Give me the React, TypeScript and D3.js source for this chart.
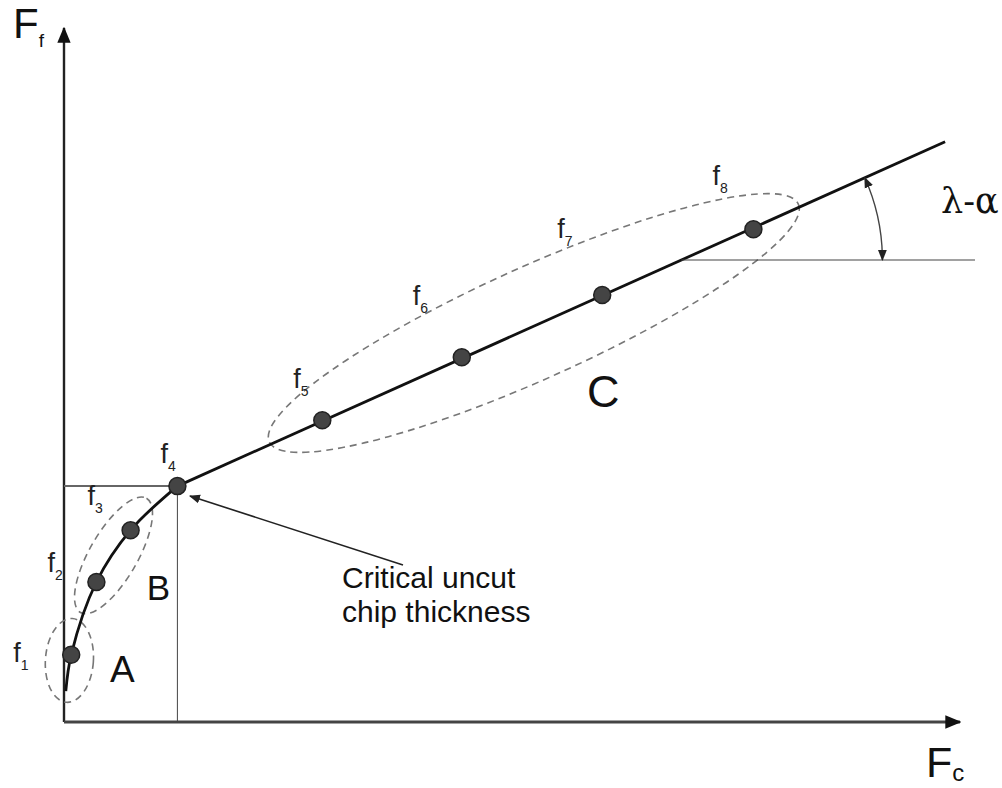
import React from "react";
import * as d3 from "d3";

// Force diagram: thrust force Ff against cutting force Fc
const pointLabels = ["1", "2", "3", "4", "5", "6", "7", "8"];
const fcValues = [0.8, 3.6, 7.4, 12.6, 28.7, 44.2, 59.8, 76.6];
const ffValues = [9.6, 20.0, 27.4, 33.7, 43.1, 52.1, 61.0, 70.4];

// curve origin and the far end of the linear (region C) trend
const curveStart = { fc: 0.2, ff: 4.4 };
const lineEnd = { fc: 97.9, ff: 82.9 };

// region labels
const regionNames = ["A", "B", "C"];
const regionFc = [5.1, 9.2, 58.1];
const regionFf = [5.7, 17.4, 45.0];
const regionSizes = [37, 35, 45];

const W = 1002;
const H = 788;

export default function App() {
  const x = d3.scaleLinear().domain([0, 100]).range([64, 964]);
  const y = d3.scaleLinear().domain([0, 100]).range([722, 22]);

  const curvePts: [number, number][] = [
    [x(curveStart.fc), y(curveStart.ff)],
    ...fcValues.slice(0, 4).map((v, i) => [x(v), y(ffValues[i])] as [number, number]),
  ];
  const curvePath = d3.line().curve(d3.curveCatmullRom.alpha(0.5))(curvePts) as string;
  const linePath = d3.line()([
    [x(fcValues[3]), y(ffValues[3])],
    [x(lineEnd.fc), y(lineEnd.ff)],
  ]) as string;

  const x0 = x(0);
  const y0 = y(0);
  const f4x = x(fcValues[3]);
  const f4y = y(ffValues[3]);

  // angle reference: horizontal through the point where the trend line meets it
  const slope = (lineEnd.ff - ffValues[3]) / (lineEnd.fc - fcValues[3]);
  const refFf = 66.0;
  const refFc = fcValues[3] + (refFf - ffValues[3]) / slope;
  const cx = x(refFc);
  const cy = y(refFf);
  const r = 201;
  const ang = Math.atan2(y(ffValues[3]) - y(lineEnd.ff), x(lineEnd.fc) - x(fcValues[3]));
  const a1x = cx + r * Math.cos(ang);
  const a1y = cy - r * Math.sin(ang);
  const a2x = cx + r;
  const a2y = cy;

  const labelOffsets: [number, number][] = [
    [-58, 7], [-49, -10], [-43, -25], [-17, -23], [-29, -32], [-49, -52], [-45, -57], [-41, -44],
  ];

  const dash = "7,5";
  const ellipseStyle = { fill: "none", stroke: "#777", strokeWidth: 1.6, strokeDasharray: dash };

  return (
    <svg width={W} height={H} style={{ display: "block", position: "absolute", left: 0, top: 0 }}
      fontFamily="'Liberation Sans', Arial, sans-serif">
      <defs>
        <marker id="axisTip" viewBox="0 0 12 12" refX="11" refY="6" markerWidth="16" markerHeight="16"
          orient="auto" markerUnits="userSpaceOnUse">
          <path d="M0,1 L12,6 L0,11 Z" fill="#111" />
        </marker>
        <marker id="smallHead" viewBox="0 0 10 10" refX="9" refY="5" markerWidth="11" markerHeight="11"
          orient="auto-start-reverse" markerUnits="userSpaceOnUse">
          <path d="M0,1 L10,5 L0,9 Z" fill="#222" />
        </marker>
      </defs>

      <rect width={W} height={H} fill="#fff" />

      {/* axes */}
      <line x1={x0} y1={y0} x2={x0} y2={28} stroke="#222" strokeWidth={2.4} markerEnd="url(#axisTip)" />
      <line x1={x0} y1={y0} x2={960} y2={y0} stroke="#444" strokeWidth={2.8} markerEnd="url(#axisTip)" />

      {/* critical point guide lines */}
      <line x1={x0} y1={f4y} x2={f4x} y2={f4y} stroke="#666" strokeWidth={2} />
      <line x1={f4x} y1={f4y} x2={f4x} y2={y0} stroke="#444" strokeWidth={1} />

      {/* region ellipses */}
      <ellipse cx={x(0.6)} cy={y(8.8)} rx={24} ry={42} transform={`rotate(4 ${x(0.6)} ${y(8.8)})`} style={ellipseStyle} />
      <ellipse cx={x(5.5)} cy={y(23.8)} rx={66} ry={24}
        transform={`rotate(-60 ${x(5.5)} ${y(23.8)})`} style={ellipseStyle} />
      <ellipse cx={x(52.2)} cy={y(57.0)} rx={290} ry={56}
        transform={`rotate(-24.2 ${x(52.2)} ${y(57.0)})`} style={ellipseStyle} />

      {/* force curve */}
      <path d={curvePath} fill="none" stroke="#111" strokeWidth={2.8} />
      <path d={linePath} fill="none" stroke="#111" strokeWidth={2.8} />

      {/* angle reference */}
      <line x1={cx} y1={cy} x2={975} y2={cy} stroke="#444" strokeWidth={1.2} />
      <path d={`M${a1x},${a1y} A${r},${r} 0 0 1 ${a2x},${a2y}`} fill="none" stroke="#444" strokeWidth={1.4}
        markerStart="url(#smallHead)" markerEnd="url(#smallHead)" />
      <text x={941} y={213} fontSize={35} fill="#111" fontFamily="'DejaVu Serif', serif">λ-α</text>

      {/* measured points */}
      {fcValues.map((v, i) => (
        <circle key={i} cx={x(v)} cy={y(ffValues[i])} r={8.5} fill="#444" stroke="#222" strokeWidth={1.5} />
      ))}
      {fcValues.map((v, i) => (
        <text key={"l" + i} x={x(v) + labelOffsets[i][0]} y={y(ffValues[i]) + labelOffsets[i][1]}
          fontSize={27} fill="#222">
          f<tspan fontSize={14} dy={8}>{pointLabels[i]}</tspan>
        </text>
      ))}

      {/* region names */}
      {regionNames.map((n, i) => (
        <text key={n} x={x(regionFc[i])} y={y(regionFf[i])} fontSize={regionSizes[i]} fill="#111">{n}</text>
      ))}

      {/* critical thickness callout */}
      <line x1={403} y1={565} x2={190} y2={496} stroke="#222" strokeWidth={1.6} markerEnd="url(#smallHead)" />
      <text x={342} y={588} fontSize={30} fill="#111">Critical uncut</text>
      <text x={342} y={622} fontSize={30} fill="#111">chip thickness</text>

      {/* axis titles */}
      <text x={13} y={38} fontSize={42} fill="#111">F<tspan fontSize={19} dy={9}>f</tspan></text>
      <text x={926} y={777} fontSize={43} fill="#111">F<tspan fontSize={24} dy={4}>c</tspan></text>
    </svg>
  );
}
